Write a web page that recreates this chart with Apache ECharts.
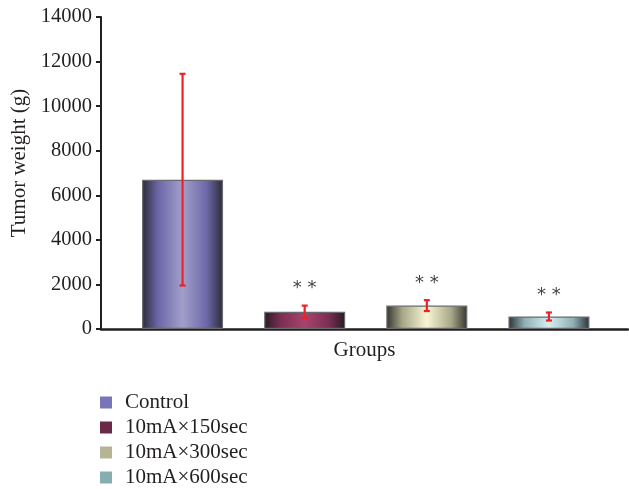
<!DOCTYPE html>
<html><head><meta charset="utf-8">
<script src="https://cdn.jsdelivr.net/npm/echarts@6/dist/echarts.min.js"></script>
<style>html,body{margin:0;padding:0;background:#fff}#c{width:629px;height:489px}</style>
</head><body><div id="c"></div>
<script>
const categories = ['Control', '10mA×150sec', '10mA×300sec', '10mA×600sec'];
const means = [6700, 770, 1050, 560];
const errors = [4750, 280, 245, 180];
const sigLabels = ['', '* *', '* *', '* *'];
const yMin = 0, yMax = 14000, yStep = 2000;
const yName = 'Tumor weight (g)';
const xName = 'Groups';

const gradStops = [
  ['#2c2a38', '#6c68a8', '#a29ecb'],
  ['#241c22', '#7a2f52', '#a8436d'],
  ['#35352c', '#a8a88a', '#f8f6d2'],
  ['#2c3236', '#8fb0b4', '#d6eff1']
];
const legendColors = ['#7876b8', '#6a2947', '#b5b595', '#86adb1'];

function grad(c) {
  return { type: 'linear', x: 0, y: 0, x2: 1, y2: 0, colorStops: [
    { offset: 0, color: c[0] }, { offset: 0.2, color: c[1] }, { offset: 0.5, color: c[2] },
    { offset: 0.8, color: c[1] }, { offset: 1, color: c[0] } ] };
}

const serif = 'Liberation Serif';
const barSeries = categories.map((name, i) => ({
  name: name, type: 'bar', xAxisIndex: 1, yAxisIndex: 1, stack: 'g', barWidth: 81,
  data: categories.map((c, j) => j === i ? means[j] : '-'),
  itemStyle: { color: grad(gradStops[i]), borderColor: '#6a6a70', borderWidth: 1.2 },
  emphasis: { disabled: true }
}));

const errData = categories.map((c, i) => [i, means[i] - errors[i], means[i] + errors[i], sigLabels[i]]);

const option = {
  animation: false,
  backgroundColor: '#fff',
  grid: [
    { left: 101, right: 1, top: 17, bottom: 160 },
    { left: 121.5, right: 19, top: 17, bottom: 160 }
  ],
  legend: {
    orient: 'vertical', left: 100, top: 392, height: 97, padding: 0, itemGap: 4, itemWidth: 12, itemHeight: 12,
    icon: 'rect',
    textStyle: { fontFamily: serif, fontSize: 21, color: '#231f20', padding: [0, 0, 0, 8] },
    data: categories.map((n, i) => ({ name: n, itemStyle: { color: legendColors[i], borderWidth: 0 } }))
  },
  xAxis: [
    { type: 'category', gridIndex: 0, data: categories, name: xName, nameLocation: 'middle', nameGap: 11,
      nameTextStyle: { fontFamily: serif, fontSize: 21, color: '#231f20' },
      axisLine: { lineStyle: { color: '#231f20', width: 2.5 } },
      axisTick: { show: false }, axisLabel: { show: false }, splitLine: { show: false } },
    { type: 'category', gridIndex: 1, data: categories, show: false }
  ],
  yAxis: [
    { type: 'value', gridIndex: 0, min: yMin, max: yMax, interval: yStep, name: yName,
      nameLocation: 'middle', nameGap: 71, nameRotate: 90,
      nameTextStyle: { fontFamily: serif, fontSize: 21, color: '#231f20', padding: [0, 0, 0, 20] },
      axisLine: { show: true, lineStyle: { color: '#231f20', width: 2 } },
      axisTick: { show: true, inside: false, length: 5, lineStyle: { color: '#231f20', width: 2 } },
      axisLabel: { fontFamily: serif, fontSize: 20.5, color: '#231f20', margin: 9, formatter: v => String(v) },
      splitLine: { show: false } },
    { type: 'value', gridIndex: 1, min: yMin, max: yMax, interval: yStep, show: false, splitLine: { show: false } }
  ],
  series: barSeries.concat([{
    type: 'custom', xAxisIndex: 1, yAxisIndex: 1, data: errData, z: 10,
    renderItem: function (params, api) {
      const x = api.value(0);
      const lo = api.coord([x, api.value(1)]);
      const hi = api.coord([x, api.value(2)]);
      const cap = 3;
      const st = { stroke: '#ec2228', lineWidth: 2.2 };
      const children = [
        { type: 'line', shape: { x1: hi[0], y1: hi[1], x2: lo[0], y2: lo[1] }, style: st },
        { type: 'line', shape: { x1: hi[0] - cap, y1: hi[1], x2: hi[0] + cap, y2: hi[1] }, style: st },
        { type: 'line', shape: { x1: lo[0] - cap, y1: lo[1], x2: lo[0] + cap, y2: lo[1] }, style: st }
      ];
      const lab = api.value(3);
      if (lab) {
        children.push({ type: 'text', style: { text: lab, x: hi[0], y: hi[1] - 8, align: 'center',
          verticalAlign: 'bottom', fill: '#444', font: '18px "DejaVu Sans"' } });
      }
      return { type: 'group', children: children };
    }
  }])
};
echarts.init(document.getElementById('c')).setOption(option);
</script></body></html>
